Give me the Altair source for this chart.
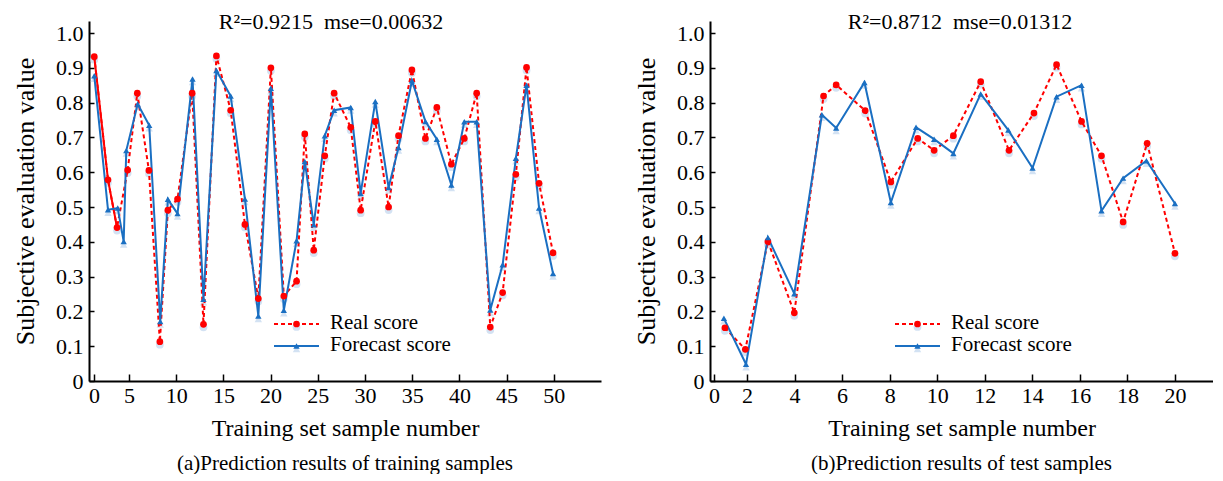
import altair as alt
import pandas as pd

# ---------------- data ----------------
# (a) training samples
train_real_x = [0.04, 2.0, 3.29, 4.81, 5.88, 7.11, 8.27, 9.12, 10.14, 11.69, 12.89, 14.26, 15.77,
                17.28, 18.70, 20.03, 21.40, 22.75, 23.62, 24.57, 25.74, 26.73, 28.49, 29.54, 31.09,
                32.50, 33.55, 34.97, 36.40, 37.61, 39.15, 40.52, 41.83, 43.27, 44.58, 45.98, 47.11,
                48.44, 49.92]
train_real_y = [0.932, 0.578, 0.441, 0.606, 0.827, 0.605, 0.113, 0.491, 0.523, 0.827, 0.163, 0.934,
                0.778, 0.450, 0.237, 0.900, 0.244, 0.287, 0.710, 0.376, 0.647, 0.827, 0.729, 0.491,
                0.746, 0.500, 0.705, 0.894, 0.697, 0.786, 0.623, 0.697, 0.827, 0.155, 0.254, 0.594,
                0.901, 0.568, 0.368]
train_fc_x = [0.04, 2.0, 3.39, 4.24, 4.61, 5.92, 7.14, 8.31, 9.12, 10.14, 11.73, 12.89, 14.26, 15.77,
              17.28, 18.70, 20.03, 21.40, 22.75, 23.62, 24.57, 25.74, 26.73, 28.49, 29.54, 31.09,
              32.50, 33.55, 34.97, 36.40, 37.61, 39.15, 40.52, 41.83, 43.27, 44.58, 45.98, 47.11,
              48.44, 49.92]
train_fc_y = [0.877, 0.492, 0.497, 0.401, 0.662, 0.796, 0.735, 0.171, 0.522, 0.481, 0.868, 0.235,
              0.892, 0.819, 0.523, 0.187, 0.841, 0.203, 0.403, 0.631, 0.449, 0.705, 0.778, 0.786,
              0.539, 0.803, 0.556, 0.671, 0.863, 0.746, 0.695, 0.563, 0.745, 0.745, 0.204, 0.334,
              0.640, 0.850, 0.497, 0.309]

# (b) test samples
test_real_x = [0.66, 1.90, 2.88, 3.99, 5.22, 5.75, 6.97, 8.05, 9.18, 9.87, 10.68, 11.83, 13.02,
               14.07, 15.02, 16.07, 16.91, 17.82, 18.83, 20.0]
test_real_y = [0.153, 0.091, 0.401, 0.196, 0.819, 0.851, 0.777, 0.572, 0.697, 0.663, 0.705, 0.860,
               0.663, 0.770, 0.909, 0.746, 0.647, 0.457, 0.683, 0.367]
test_fc_x = [0.60, 1.94, 2.88, 3.99, 5.15, 5.75, 6.94, 8.05, 9.11, 9.87, 10.68, 11.83, 12.99,
             14.01, 15.02, 16.07, 16.91, 17.82, 18.80, 20.0]
test_fc_y = [0.180, 0.048, 0.412, 0.251, 0.765, 0.727, 0.858, 0.513, 0.729, 0.695, 0.654, 0.825,
             0.721, 0.612, 0.817, 0.850, 0.489, 0.583, 0.633, 0.510]

train_xticks = [0, 5, 10, 15, 20, 25, 30, 35, 40, 45, 50]
test_xticks = [0, 2, 4, 6, 8, 10, 12, 14, 16, 18, 20]
yticks = [0, 0.1, 0.2, 0.3, 0.4, 0.5, 0.6, 0.7, 0.8, 0.9, 1.0]

series_names = ["Real score", "Forecast score"]
stats_a = "R\u00b2=0.9215\u00a0\u00a0mse=0.00632"
stats_b = "R\u00b2=0.8712\u00a0\u00a0mse=0.01312"
x_title = "Training set sample number"
y_title = "Subjective evaluation value"
caption_a = "(a)Prediction results of training samples"
caption_b = "(b)Prediction results of test samples"

# ---------------- style ----------------
FONT = "'Liberation Serif', 'Times New Roman', Times, serif"
RED = "#ff0000"
BLUE = "#1a6fc2"
SHADOW = "#d3e2f3"
H = 360
YMAX = 1.0345


def panel(rx, ry, fx, fy, W, xdomain, xrange_, xticks, stats, stats_x, caption, solid_n):
    real = pd.DataFrame({"x": rx, "y": ry})
    fc = pd.DataFrame({"x": fx, "y": fy})
    xs = alt.Scale(domain=xdomain, range=xrange_, nice=False, zero=False)
    ys = alt.Scale(domain=[0, YMAX], nice=False, zero=False)
    xa = alt.Axis(values=xticks, title=x_title, ticks=False, labelPadding=4, titlePadding=10,
                  titleFontSize=24)
    ya = alt.Axis(values=yticks, title=y_title, ticks=False, labelPadding=6, titlePadding=17,
                  titleFontSize=26,
                  labelExpr="datum.value == 0 ? '0' : format(datum.value, '.1f')")
    X = alt.X("x:Q", scale=xs, axis=xa)
    Y = alt.Y("y:Q", scale=ys, axis=ya)

    base_r = alt.Chart(real)
    base_f = alt.Chart(fc)
    layers = [
        base_r.mark_point(shape="circle", filled=True, color=SHADOW, size=60, opacity=1, yOffset=3).encode(x=X, y=Y),
        base_f.mark_point(shape="triangle-up", filled=True, color=SHADOW, size=55, opacity=1, yOffset=3).encode(x=X, y=Y),
        base_r.mark_line(color=RED, strokeWidth=2, strokeDash=[4, 3]).encode(x=X, y=Y),
    ]
    if solid_n:
        layers.append(alt.Chart(real.iloc[:solid_n]).mark_line(color=RED, strokeWidth=2).encode(x=X, y=Y))
    layers += [
        base_f.mark_line(color=BLUE, strokeWidth=2).encode(x=X, y=Y),
        base_r.mark_point(shape="circle", filled=True, color=RED, size=45, opacity=1).encode(x=X, y=Y),
        base_f.mark_point(shape="triangle-up", filled=True, color=BLUE, size=40, opacity=1).encode(x=X, y=Y),
    ]
    main = alt.layer(*layers)

    # inward ticks (axes mirrored onto the plot edges)
    tick_layer = base_r.mark_point(opacity=0).encode(
        x=alt.X("x:Q", scale=xs, axis=alt.Axis(orient="top", offset=-H, values=xticks, labels=False,
                                                domain=False, tickSize=7, tickWidth=1.5,
                                                tickColor="black", title=None, grid=False)),
        y=alt.Y("y:Q", scale=ys, axis=alt.Axis(orient="right", offset=-W, values=yticks, labels=False,
                                                domain=False, tickSize=5, tickWidth=1.5,
                                                tickColor="black", title=None, grid=False)),
    )

    one = alt.Chart(pd.DataFrame({"k": [0]}))
    lx0, lx1, lxm, ltx = 185, 230, 207.5, 241
    ly = [303, 325]
    legend = [
        one.mark_rule(color=RED, strokeWidth=2, strokeDash=[4, 3]).encode(
            x=alt.value(lx0), x2=alt.value(lx1), y=alt.value(ly[0])),
        one.mark_point(shape="circle", filled=True, color=SHADOW, size=60, opacity=1, yOffset=3).encode(
            x=alt.value(lxm), y=alt.value(ly[0])),
        one.mark_point(shape="circle", filled=True, color=RED, size=45, opacity=1).encode(
            x=alt.value(lxm), y=alt.value(ly[0])),
        one.mark_rule(color=BLUE, strokeWidth=2).encode(
            x=alt.value(lx0), x2=alt.value(lx1), y=alt.value(ly[1])),
        one.mark_point(shape="triangle-up", filled=True, color=SHADOW, size=55, opacity=1, yOffset=3).encode(
            x=alt.value(lxm), y=alt.value(ly[1])),
        one.mark_point(shape="triangle-up", filled=True, color=BLUE, size=40, opacity=1).encode(
            x=alt.value(lxm), y=alt.value(ly[1])),
        one.mark_text(align="left", baseline="middle", font=FONT, fontSize=21, color="black",
                      text=series_names[0]).encode(x=alt.value(ltx), y=alt.value(ly[0] - 1)),
        one.mark_text(align="left", baseline="middle", font=FONT, fontSize=21, color="black",
                      text=series_names[1]).encode(x=alt.value(ltx), y=alt.value(ly[1] - 1)),
        one.mark_text(align="center", baseline="alphabetic", font=FONT, fontSize=22, color="black",
                      text=stats).encode(x=alt.value(stats_x), y=alt.value(8)),
    ]

    return alt.layer(main, tick_layer, *legend).resolve_scale(x="independent", y="independent").properties(
        width=W, height=H,
        title=alt.TitleParams(caption, orient="bottom", font=FONT, fontSize=21, fontWeight="normal",
                              color="black", offset=13),
    )


left = panel(train_real_x, train_real_y, train_fc_x, train_fc_y, 512,
             [-0.71, 0, 5, 55], [0, 5, 40, 512], train_xticks, stats_a, 242, caption_a, 3)
right = panel(test_real_x, test_real_y, test_fc_x, test_fc_y, 503,
              [-0.24, 0, 2, 21.6], [0, 4, 37, 503], test_xticks, stats_b, 250, caption_b, 0)

chart = alt.hconcat(left, right, spacing=32).properties(
    padding={"left": 4, "top": 3, "right": 0, "bottom": 0}
).configure_view(stroke=None).configure_axis(
    domainColor="black", domainWidth=2, labelFont=FONT, labelFontSize=22, labelColor="black",
    titleFont=FONT, titleFontSize=24, titleFontWeight="normal", titleColor="black", grid=False,
)

chart.save("out.html", embed_options={"renderer": "svg", "actions": False})
